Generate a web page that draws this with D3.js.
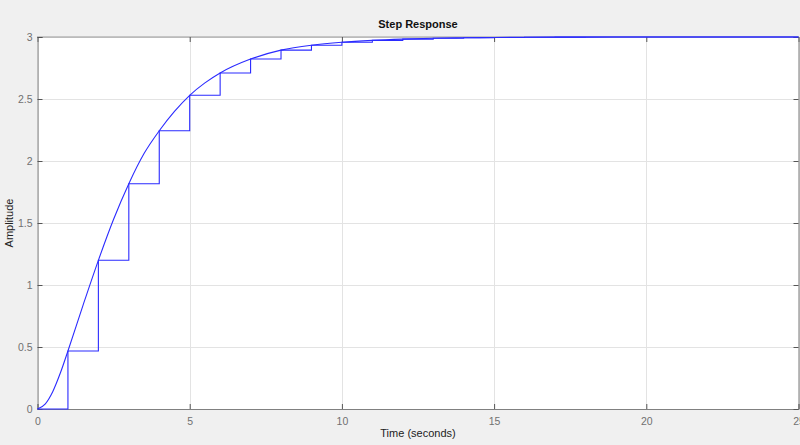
<!DOCTYPE html>
<html>
<head>
<meta charset="utf-8">
<script src="https://cdn.jsdelivr.net/npm/d3@7"></script>
<style>
  html, body { margin: 0; padding: 0; background: #f0f0f0; }
  svg { display: block; font-family: "Liberation Sans", Arial, Helvetica, sans-serif; }
</style>
</head>
<body>
<svg id="chart" width="800" height="445"></svg>
<script>
// ---- data ----
const contTime = [0, 0.25, 0.5, 0.75, 1, 1.5, 2, 2.5, 3, 3.5, 4, 4.5, 5, 5.5, 6, 7, 8, 9, 10, 11, 12, 13, 14, 15, 16, 18, 20, 25];
const contAmp  = [0, 0.04, 0.14, 0.29, 0.468, 0.84, 1.199, 1.53, 1.817, 2.06, 2.244, 2.40, 2.53, 2.63, 2.71, 2.822, 2.894, 2.934, 2.958, 2.973, 2.983, 2.99, 2.994, 2.996, 2.998, 2.999, 3, 3];
const discTime = [0, 1, 2, 3, 4, 5, 6, 7, 8, 9, 10, 11, 12, 13, 14, 15, 16, 17, 18, 19, 20, 21, 22, 23, 24, 25];
const discAmp  = [0, 0.468, 1.199, 1.817, 2.244, 2.53, 2.71, 2.822, 2.894, 2.934, 2.958, 2.973, 2.983, 2.99, 2.994, 2.996, 2.998, 2.999, 3, 3, 3, 3, 3, 3, 3, 3];
const steadyValue = 3;
const xTicks = [0, 5, 10, 15, 20, 25];
const yTicks = [0, 0.5, 1, 1.5, 2, 2.5, 3];
const titleText = "Step Response";
const xLabel = "Time (seconds)";
const yLabel = "Amplitude";

// ---- layout ----
const svg = d3.select("#chart");
const L = 37.5, R = 798.5, T = 37, B = 409;
const x = d3.scaleLinear().domain([0, 25]).range([L, R]);
const y = d3.scaleLinear().domain([0, 3]).range([B, T]);

// plot background
svg.append("rect").attr("x", L).attr("y", T).attr("width", R - L).attr("height", B - T).attr("fill", "#ffffff");

// grid
const grid = svg.append("g").attr("stroke", "#e3e3e3").attr("stroke-width", 1);
xTicks.forEach(t => {
  grid.append("line").attr("x1", Math.round(x(t)) + 0.5).attr("x2", Math.round(x(t)) + 0.5).attr("y1", T).attr("y2", B);
});
yTicks.forEach(t => {
  grid.append("line").attr("x1", L).attr("x2", R).attr("y1", Math.round(y(t)) + 0.5).attr("y2", Math.round(y(t)) + 0.5);
});

// axes (ticks inward)
const tickCol = "#808080";
const xAxisB = d3.axisBottom(x).tickValues(xTicks).tickSize(-5).tickPadding(9).tickFormat(d3.format("d"));
const gxb = svg.append("g").attr("transform", `translate(0,${B})`).call(xAxisB);
const xAxisT = d3.axisTop(x).tickValues(xTicks).tickSize(-5).tickFormat("");
const gxt = svg.append("g").attr("transform", `translate(0,${T})`).call(xAxisT);
const yAxisL = d3.axisLeft(y).tickValues(yTicks).tickSize(-5).tickPadding(5).tickFormat(d => d);
const gyl = svg.append("g").attr("transform", `translate(${L},0)`).call(yAxisL);
const yAxisR = d3.axisRight(y).tickValues(yTicks).tickSize(-5).tickFormat("");
const gyr = svg.append("g").attr("transform", `translate(${R},0)`).call(yAxisR);
[gxb, gxt, gyl, gyr].forEach(g => {
  g.selectAll(".domain").attr("stroke", tickCol);
  g.selectAll(".tick line").attr("stroke", "#555");
  g.selectAll(".tick text").attr("fill", "#707070").attr("font-size", 10.5).attr("font-family", "Liberation Sans, Arial, sans-serif");
});
gxt.select(".domain").remove();

// steady-state dotted line
svg.append("line").attr("x1", x(0)).attr("x2", x(25)).attr("y1", y(steadyValue)).attr("y2", y(steadyValue))
  .attr("stroke", "#444").attr("stroke-width", 1).attr("stroke-dasharray", "1,1");

// discrete response (stairs)
const discData = discTime.map((t, i) => [t, discAmp[i]]);
svg.append("path").datum(discData)
  .attr("d", d3.line().x(d => x(d[0])).y(d => y(d[1])).curve(d3.curveStepAfter))
  .attr("fill", "none").attr("stroke", "#2b2bff").attr("stroke-width", 1.1);

// continuous response
const contData = contTime.map((t, i) => [t, contAmp[i]]);
svg.append("path").datum(contData)
  .attr("d", d3.line().x(d => x(d[0])).y(d => y(d[1])).curve(d3.curveMonotoneX))
  .attr("fill", "none").attr("stroke", "#2b2bff").attr("stroke-width", 1.1);

// titles
svg.append("text").attr("x", (L + R) / 2).attr("y", 28).attr("text-anchor", "middle")
  .attr("font-size", 11).attr("font-weight", "bold").attr("fill", "#111").text(titleText);
svg.append("text").attr("x", (L + R) / 2).attr("y", 437).attr("text-anchor", "middle")
  .attr("font-size", 11).attr("fill", "#222").text(xLabel);
svg.append("text").attr("transform", `translate(13,${(T + B) / 2}) rotate(-90)`).attr("text-anchor", "middle")
  .attr("font-size", 11).attr("fill", "#222").text(yLabel);
</script>
</body>
</html>
